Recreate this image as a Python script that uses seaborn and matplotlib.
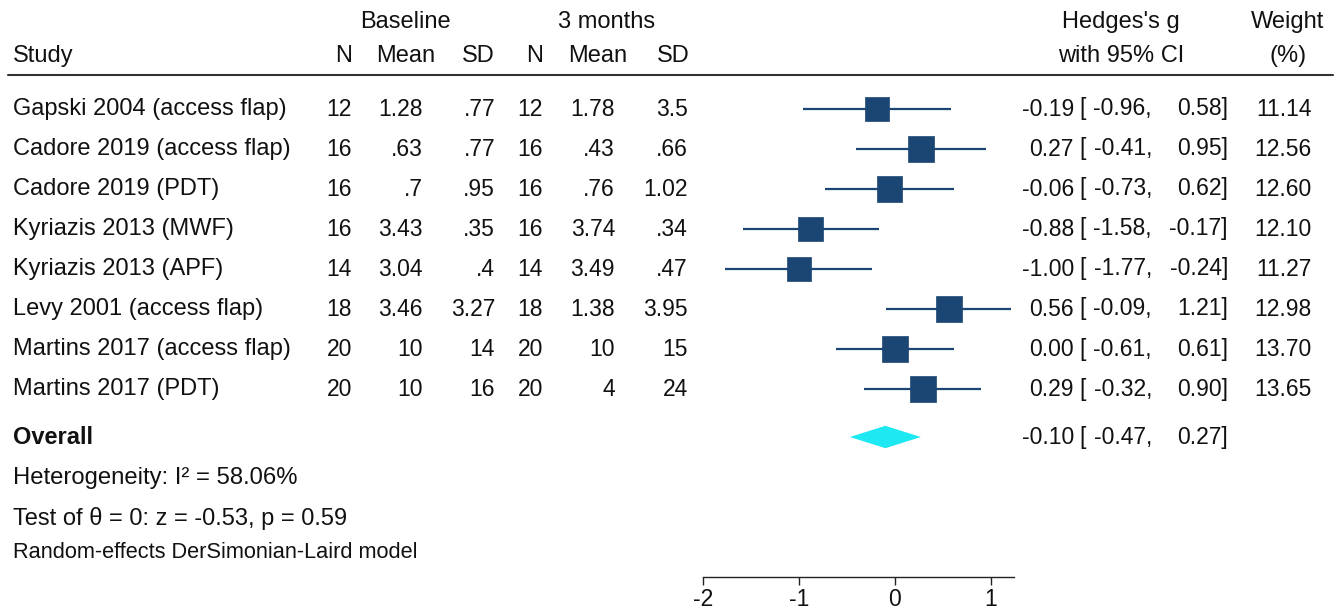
import numpy as np
import pandas as pd
import seaborn as sns
import matplotlib
matplotlib.use("Agg")
import matplotlib.pyplot as plt
from matplotlib.transforms import blended_transform_factory

# ---------------- data ----------------
studies = ["Gapski 2004 (access flap)", "Cadore 2019 (access flap)", "Cadore 2019 (PDT)",
           "Kyriazis 2013 (MWF)", "Kyriazis 2013 (APF)", "Levy 2001 (access flap)",
           "Martins 2017 (access flap)", "Martins 2017 (PDT)"]
n_base = [12, 16, 16, 16, 14, 18, 20, 20]
mean_base = [1.28, 0.63, 0.7, 3.43, 3.04, 3.46, 10, 10]
sd_base = [0.77, 0.77, 0.95, 0.35, 0.4, 3.27, 14, 16]
n_3m = [12, 16, 16, 16, 14, 18, 20, 20]
mean_3m = [1.78, 0.43, 0.76, 3.74, 3.49, 1.38, 10, 4]
sd_3m = [3.5, 0.66, 1.02, 0.34, 0.47, 3.95, 15, 24]
hedges_g = [-0.19, 0.27, -0.06, -0.88, -1.00, 0.56, 0.00, 0.29]
ci_low = [-0.96, -0.41, -0.73, -1.58, -1.77, -0.09, -0.61, -0.32]
ci_high = [0.58, 0.95, 0.62, -0.17, -0.24, 1.21, 0.61, 0.90]
weights = [11.14, 12.56, 12.60, 12.10, 11.27, 12.98, 13.70, 13.65]
overall_g, overall_low, overall_high = -0.10, -0.47, 0.27
x_ticks = [-2, -1, 0, 1]
footer_lines = ["Heterogeneity: I\u00b2 = 58.06%",
                "Test of \u03b8 = 0: z = -0.53, p = 0.59",
                "Random-effects DerSimonian-Laird model"]

df = pd.DataFrame({"study": studies, "g": hedges_g, "lo": ci_low, "hi": ci_high,
                   "w": weights, "row": np.arange(len(studies))})

# ---------------- figure ----------------
sns.set_theme(style="white")
plt.rcParams["font.family"] = ["Liberation Sans", "DejaVu Sans"]

W, H = 1338, 610
fig = plt.figure(figsize=(W / 100, H / 100), dpi=100)
px = lambda x: x / W
# axes: x data -2 -> 703px, 1.24 -> 1014px ; y rows, bottom at 577px
ax_left, ax_right, ax_bottom_px = 703, 1014, 577
ax = fig.add_axes([px(ax_left), (H - ax_bottom_px) / H, px(ax_right - ax_left), ax_bottom_px / H])
row0_px, row_step = 109, 40
ax.set_ylim((ax_bottom_px - row0_px) / row_step, -row0_px / row_step)
ax.set_xlim(-2, 1.24)

navy = "#1b4673"
ax.hlines(df["row"], df["lo"], df["hi"], color=navy, lw=1.6, zorder=2)
sns.scatterplot(data=df, x="g", y="row", size="w", sizes=(0, 26.5 * max(weights)),
                size_norm=(0, max(weights)), marker="s", color=navy, edgecolor=navy,
                linewidth=0.5, legend=False, ax=ax, zorder=3)

overall_row = 8.2
dh = 0.28
ax.fill([overall_low, overall_g, overall_high, overall_g],
        [overall_row, overall_row - dh, overall_row, overall_row + dh],
        color="#1ee8f2", lw=0, zorder=3)

ax.set_xlabel("")
ax.set_ylabel("")
ax.set_yticks([])
ax.set_xticks(x_ticks)
ax.set_xticklabels([str(t) for t in x_ticks], fontsize=16.5)
for s in ["top", "left", "right"]:
    ax.spines[s].set_visible(False)
ax.spines["bottom"].set_color("#222222")
ax.spines["bottom"].set_linewidth(1.0)
ax.tick_params(axis="x", direction="out", length=6, width=1, color="#222222", pad=2,
               bottom=True, labelcolor="#111111")
ax.patch.set_alpha(0)

# ---------------- text ----------------
tr = blended_transform_factory(fig.transFigure, ax.transData)
FS = 17      # words
FN = 16.5    # numbers
txt = "#111111"

def t(x, y, s, ha="left", fs=FS, **kw):
    ax.text(px(x), y, s, transform=tr, ha=ha, va="center", fontsize=fs, color=txt,
            clip_on=False, **kw)

def fmt(v):
    s = f"{v:g}"
    if s.startswith("0."):
        s = s[1:]
    return s

# header
hy1 = (22 - row0_px) / row_step
hy2 = (56 - row0_px) / row_step
t(405, hy1, "Baseline", ha="center")
t(607, hy1, "3 months", ha="center")
t(1121, hy1, "Hedges's g", ha="center")
t(1288, hy1, "Weight", ha="center")
t(13, hy2, "Study")
for x, s in zip([352, 435, 495, 543, 627, 690], ["N", "Mean", "SD", "N", "Mean", "SD"]):
    t(x, hy2, s, ha="right")
t(1121, hy2, "with 95% CI", ha="center")
t(1288, hy2, "(%)", ha="center")

line_y = (75 - row0_px) / row_step
ax.plot([px(8), px(1333)], [line_y, line_y], transform=tr, color="#333333", lw=1.5,
        clip_on=False)

for i in range(len(studies)):
    t(13, i, studies[i])
    t(352, i, str(n_base[i]), ha="right", fs=FN)
    t(423, i, fmt(mean_base[i]), ha="right", fs=FN)
    t(495, i, fmt(sd_base[i]), ha="right", fs=FN)
    t(543, i, str(n_3m[i]), ha="right", fs=FN)
    t(615, i, fmt(mean_3m[i]), ha="right", fs=FN)
    t(688, i, fmt(sd_3m[i]), ha="right", fs=FN)
    t(1074, i, f"{hedges_g[i]:.2f}", ha="right", fs=FN)
    t(1079, i, "[", fs=FN)
    t(1152, i, f"{ci_low[i]:.2f},", ha="right", fs=FN)
    t(1228, i, f"{ci_high[i]:.2f}]", ha="right", fs=FN)
    t(1312, i, f"{weights[i]:.2f}", ha="right", fs=FN)

t(13, overall_row, "Overall", fontweight="bold")
t(1074, overall_row, f"{overall_g:.2f}", ha="right", fs=FN)
t(1079, overall_row, "[", fs=FN)
t(1152, overall_row, f"{overall_low:.2f},", ha="right", fs=FN)
t(1228, overall_row, f"{overall_high:.2f}]", ha="right", fs=FN)

t(13, (478 - row0_px) / row_step, footer_lines[0], fs=17.2)
t(13, (518 - row0_px) / row_step, footer_lines[1])
t(13, (552 - row0_px) / row_step, footer_lines[2], fs=15.7)

fig.savefig("out.png", dpi=100, facecolor="white")
